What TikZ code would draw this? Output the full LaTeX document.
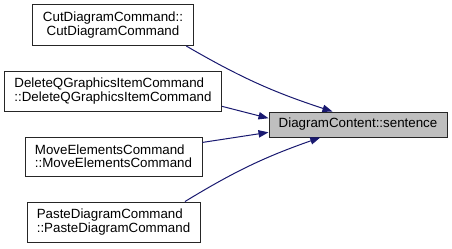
\documentclass[tikz,border=0pt]{standalone}
\usepackage{fontspec}
\setmainfont{Liberation Sans}
\usepackage{tikz}
\usepackage{xcolor}
\usetikzlibrary{arrows.meta}
\definecolor{edgeblue}{RGB}{25, 25, 112}
\definecolor{rootgray}{RGB}{191, 191, 191}

\begin{document}
\begin{tikzpicture}[x=0.75pt,y=-0.75pt,
    fn/.style={draw=black!85,line width=0.75pt,fill=white,inner sep=0pt,
      font=\fontsize{10}{10}\selectfont},
    root/.style={fn,fill=rootgray},
    call/.style={edgeblue,line width=0.75pt,-{Triangle[length=7.5pt,width=5.5pt]}}]
        \useasboundingbox (0,0) rectangle (452,248);
        % callers on the left
        \node[fn,align=center,minimum width=120.75pt,minimum height=30.75pt] (cut) at (113,25)
            {CutDiagramCommand::\\CutDiagramCommand};
        \node[fn,align=left,minimum width=162.75pt,minimum height=30pt] (del) at (113,91)
            {DeleteQGraphicsItemCommand\\::DeleteQGraphicsItemCommand};
        \node[fn,align=left,minimum width=132.75pt,minimum height=29.25pt] (move) at (113.5,156.5)
            {MoveElementsCommand\\::MoveElementsCommand};
        \node[fn,align=left,minimum width=129.75pt,minimum height=30pt] (paste) at (113.5,222)
            {PasteDiagramCommand\\::PasteDiagramCommand};
        % the function itself
        \node[root,minimum width=133.5pt,minimum height=18.75pt] (sentence) at (358,124.5)
            {DiagramContent::sentence};
        % calls
        \draw[call] (cut.-16) to[bend right=6] (sentence.153);
        \draw[call] (del.-8) -- (sentence.176);
        \draw[call] (move.9) -- (sentence.185);
        \draw[call] (paste.16) to[bend left=6] (sentence.199);
      \end{tikzpicture}
\end{document}
